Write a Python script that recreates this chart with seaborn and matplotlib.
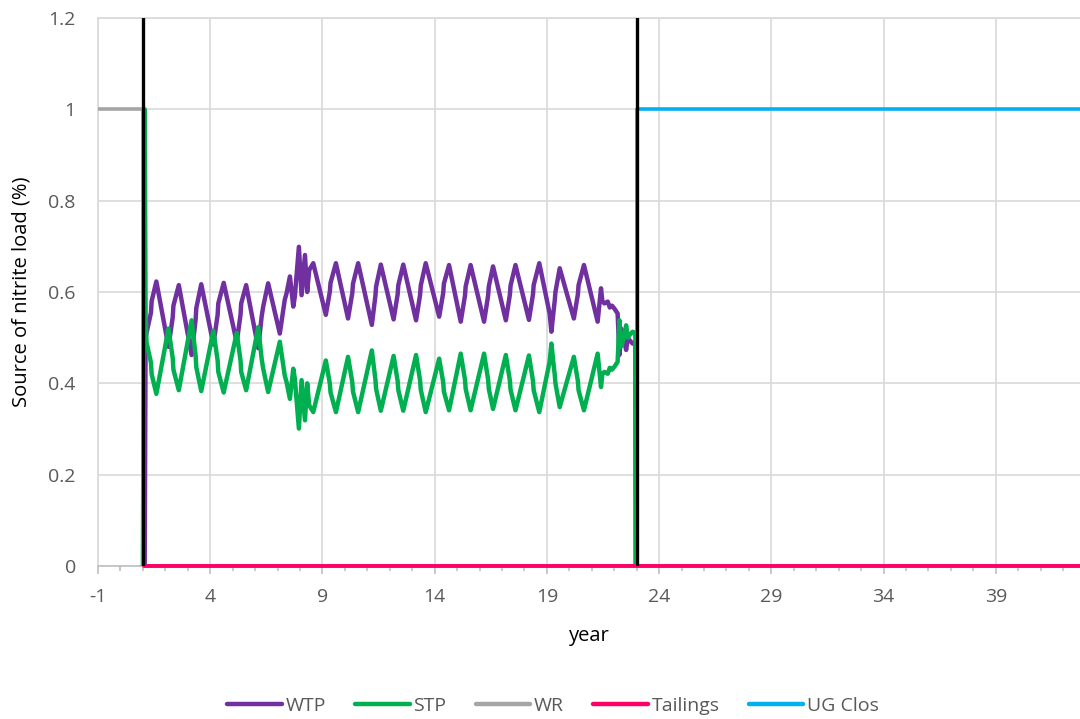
import numpy as np
import pandas as pd
import matplotlib
matplotlib.use("Agg")
import matplotlib.pyplot as plt
from matplotlib.ticker import MultipleLocator, FixedLocator
from matplotlib.lines import Line2D
import seaborn as sns

# ---------------- data ----------------
years = [1.00, 1.08, 1.12, 1.16, 1.25, 1.36, 1.39, 1.60,
         2.14, 2.33, 2.36, 2.60, 3.17, 3.35, 3.38, 3.60,
         4.14, 4.33, 4.36, 4.60, 5.18, 5.35, 5.38, 5.60,
         6.14, 6.29, 6.36, 6.58, 7.10, 7.32, 7.40, 7.55,
         7.70, 7.77, 7.95, 8.07, 8.22, 8.32, 8.41, 8.59,
         9.15, 9.33, 9.36, 9.60, 10.14, 10.33, 10.36, 10.59,
         11.20, 11.36, 11.39, 11.60, 12.17, 12.35, 12.38, 12.60,
         13.17, 13.35, 13.38, 13.60, 14.20, 14.38, 14.41, 14.64,
         15.16, 15.35, 15.38, 15.60, 16.20, 16.38, 16.41, 16.60,
         17.17, 17.35, 17.38, 17.60, 18.20, 18.38, 18.41, 18.66,
         19.12, 19.20, 19.27, 19.35, 19.38, 19.57,
         20.20, 20.38, 20.41, 20.65,
         21.26, 21.41, 21.47, 21.56, 21.71, 21.80, 21.90, 22.00,
         22.15, 22.23, 22.30, 22.38, 22.53, 22.60, 22.67, 22.82,
         22.94, 22.96]

wtp = [0.0, 0.0, 0.50, 0.51, 0.53, 0.555, 0.58, 0.623,
       0.480, 0.545, 0.570, 0.615, 0.462, 0.540, 0.565, 0.617,
       0.485, 0.550, 0.575, 0.620, 0.490, 0.550, 0.575, 0.615,
       0.477, 0.546, 0.568, 0.619, 0.509, 0.583, 0.597, 0.634,
       0.568, 0.590, 0.699, 0.593, 0.681, 0.600, 0.648, 0.663,
       0.550, 0.601, 0.620, 0.663, 0.542, 0.598, 0.618, 0.663,
       0.528, 0.592, 0.612, 0.660, 0.540, 0.595, 0.615, 0.660,
       0.538, 0.594, 0.614, 0.663, 0.546, 0.598, 0.618, 0.659,
       0.535, 0.592, 0.612, 0.659, 0.535, 0.592, 0.612, 0.656,
       0.538, 0.594, 0.614, 0.659, 0.539, 0.595, 0.615, 0.663,
       0.553, 0.513, 0.546, 0.582, 0.600, 0.652,
       0.542, 0.595, 0.615, 0.659,
       0.535, 0.608, 0.580, 0.575, 0.579, 0.566, 0.570, 0.564,
       0.553, 0.462, 0.520, 0.509, 0.473, 0.500, 0.495, 0.487,
       0.490, 0.0]

stp = [0.0, 1.0, 0.55, 0.49, 0.47, 0.445, 0.42, 0.377,
       0.520, 0.455, 0.430, 0.385, 0.538, 0.460, 0.435, 0.383,
       0.515, 0.450, 0.425, 0.380, 0.510, 0.450, 0.425, 0.385,
       0.523, 0.454, 0.432, 0.381, 0.491, 0.417, 0.403, 0.366,
       0.432, 0.410, 0.301, 0.407, 0.319, 0.400, 0.352, 0.337,
       0.450, 0.399, 0.380, 0.337, 0.458, 0.402, 0.382, 0.337,
       0.472, 0.408, 0.388, 0.340, 0.460, 0.405, 0.385, 0.340,
       0.462, 0.406, 0.386, 0.337, 0.454, 0.402, 0.382, 0.341,
       0.465, 0.408, 0.388, 0.341, 0.465, 0.408, 0.388, 0.344,
       0.462, 0.406, 0.386, 0.341, 0.461, 0.405, 0.385, 0.337,
       0.447, 0.487, 0.454, 0.418, 0.400, 0.348,
       0.458, 0.405, 0.385, 0.341,
       0.465, 0.392, 0.420, 0.425, 0.421, 0.434, 0.430, 0.436,
       0.447, 0.538, 0.480, 0.491, 0.527, 0.500, 0.505, 0.513,
       0.510, 0.0]

wr_years = [-1.0, 1.0, 1.0, 42.75]
wr = [1.0, 1.0, 0.0, 0.0]

tail_years = [1.05, 42.75]
tailings = [0.0, 0.0]

ug_years = [23.0, 23.0, 42.75]
ug_clos = [0.0, 1.0, 1.0]

phase_years = [1.0, 23.0]

series_names = ["WTP", "STP", "WR", "Tailings", "UG Clos"]
colors = ["#7030A0", "#00B050", "#A5A5A5", "#FF0066", "#00B0F0"]
x_ticks = [-1, 4, 9, 14, 19, 24, 29, 34, 39]
y_ticks = [0, 0.2, 0.4, 0.6, 0.8, 1.0, 1.2]
y_tick_labels = ["0", "0.2", "0.4", "0.6", "0.8", "1", "1.2"]

# ---------------- figure ----------------
sns.set_theme(style="white")
plt.rcParams["font.family"] = ["Open Sans", "DejaVu Sans"]
plt.rcParams["axes.unicode_minus"] = False

fig = plt.figure(figsize=(10.8, 7.19), dpi=100)
ax = fig.add_axes([98 / 1080, (719 - 566) / 719, 982 / 1080, 548 / 719])

ax.grid(True, axis="both", which="major", color="#D9D9D9", linewidth=1.2)
ax.set_axisbelow(True)

lw_main = 3.2
sns.lineplot(x=years, y=wtp, ax=ax, sort=False, estimator=None,
             color=colors[0], linewidth=lw_main, zorder=3)
sns.lineplot(x=years, y=stp, ax=ax, sort=False, estimator=None,
             color=colors[1], linewidth=lw_main, zorder=4)
sns.lineplot(x=wr_years, y=wr, ax=ax, sort=False, estimator=None,
             color=colors[2], linewidth=2.6, zorder=5)
sns.lineplot(x=tail_years, y=tailings, ax=ax, sort=False, estimator=None,
             color=colors[3], linewidth=2.8, zorder=6, clip_on=False)
sns.lineplot(x=ug_years, y=ug_clos, ax=ax, sort=False, estimator=None,
             color=colors[4], linewidth=2.6, zorder=6)
for px in phase_years:
    ax.axvline(px, ymin=0, ymax=1, color="black", linewidth=2.4, zorder=7)

ax.set_xlim(-1, 42.75)
ax.set_ylim(0, 1.2)

ax.xaxis.set_major_locator(FixedLocator(x_ticks))
ax.xaxis.set_minor_locator(MultipleLocator(1))
ax.set_yticks(y_ticks)
ax.set_yticklabels(y_tick_labels)

ax.tick_params(axis="x", which="major", direction="out", length=6, width=1.2,
               color="#BFBFBF", labelsize=14, labelcolor="#595959", pad=10, bottom=True)
ax.tick_params(axis="x", which="minor", direction="out", length=3.5, width=1.2,
               color="#BFBFBF", bottom=True)
ax.tick_params(axis="y", which="both", length=0, labelsize=14,
               labelcolor="#595959", pad=16)

ax.spines["right"].set_visible(False)
ax.spines["bottom"].set_color("#BFBFBF")
ax.spines["bottom"].set_linewidth(1.2)
ax.spines["left"].set_color("#D9D9D9")
ax.spines["left"].set_linewidth(1.2)
ax.spines["top"].set_color("#D9D9D9")
ax.spines["top"].set_linewidth(1.2)

ax.set_xlabel("year", fontsize=14.5, color="black")
ax.xaxis.set_label_coords(0.5, (566 - 636) / 548)
ax.xaxis.label.set_va("center")
ax.set_ylabel("Source of nitrite load (%)", fontsize=14.5, color="black")
ax.yaxis.set_label_coords((22 - 98) / 982, 0.5)
ax.yaxis.label.set_va("center")

handles = [Line2D([0], [0], color=c, linewidth=3.2, solid_capstyle="round") for c in colors]
fig.legend(handles, series_names, loc="center", bbox_to_anchor=(553 / 1080, 1 - 706 / 719),
           ncol=5, frameon=False, fontsize=14, handlelength=2.8, handletextpad=0.2,
           columnspacing=1.5, labelcolor="#595959")

fig.savefig("out.png", dpi=100)
